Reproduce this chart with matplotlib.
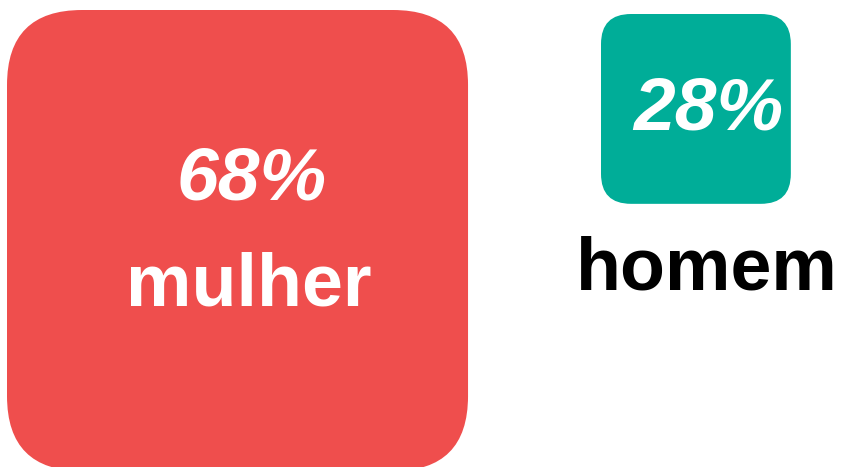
import matplotlib
matplotlib.use("Agg")
import matplotlib.pyplot as plt
from matplotlib.patches import FancyBboxPatch

# data
labels = ["mulher", "homem"]
values = [68, 28]
colors = ["#EF4E4D", "#00AD98"]

plt.rcParams["font.family"] = ["Liberation Sans", "DejaVu Sans"]

W, H = 843, 467
fig = plt.figure(figsize=(W / 100, H / 100), dpi=100)
ax = fig.add_axes([0, 0, 1, 1])
ax.set_xlim(0, W)
ax.set_ylim(H, 0)
ax.axis("off")

px_per_pct = 6.78
# layout: top-left corner of each box, radius
corners = [(7, 10), (601, 14)]
radii = [75, 30]

for i, (lab, v, c) in enumerate(zip(labels, values, colors)):
    side = v * px_per_pct
    x0, y0 = corners[i]
    box = FancyBboxPatch((x0, y0), side, side,
                         boxstyle=f"round,pad=0,rounding_size={radii[i]}",
                         fc=c, ec="none")
    ax.add_patch(box)
    cx = x0 + side / 2

    if i == 0:
        ax.text(cx + 14, 200, f"{v}%", color="white", fontsize=54,
                fontweight="bold", fontstyle="italic", ha="center", va="baseline")
        ax.text(cx + 11, 305, lab, color="white", fontsize=53,
                fontweight="bold", ha="center", va="baseline")
    else:
        ax.text(cx + 12, 130, f"{v}%", color="white", fontsize=54,
                fontweight="bold", fontstyle="italic", ha="center", va="baseline")
        ax.text(cx + 11, 290, lab, color="black", fontsize=53,
                fontweight="bold", ha="center", va="baseline")

fig.savefig("out.png", dpi=100)
